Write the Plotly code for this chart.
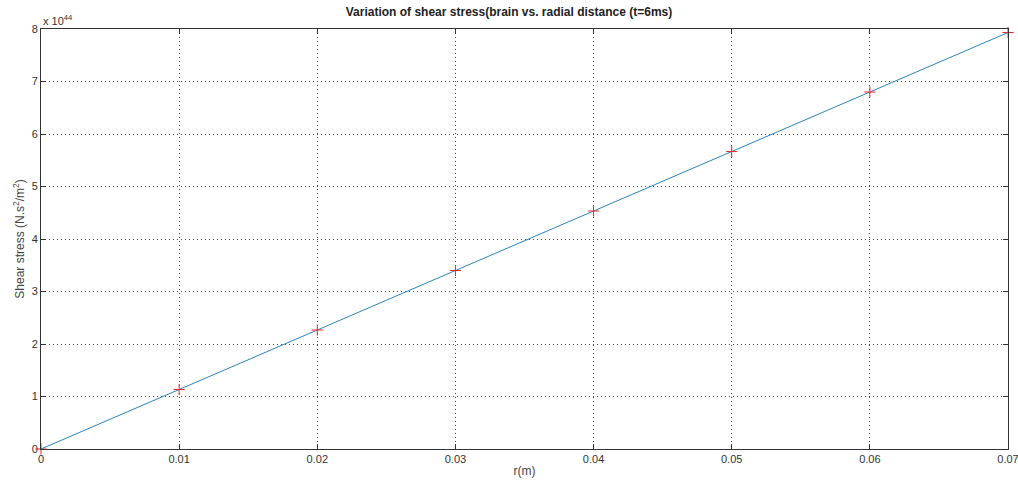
import plotly.graph_objects as go

r_m = [0, 0.01, 0.02, 0.03, 0.04, 0.05, 0.06, 0.07]
shear_stress_e44 = [0, 1.133, 2.267, 3.40, 4.533, 5.667, 6.80, 7.933]
x_ticks = [0, 0.01, 0.02, 0.03, 0.04, 0.05, 0.06, 0.07]
x_tick_labels = ["0", "0.01", "0.02", "0.03", "0.04", "0.05", "0.06", "0.07"]
y_ticks = [0, 1, 2, 3, 4, 5, 6, 7, 8]

font = "Liberation Sans, Arial, sans-serif"

fig = go.Figure()
fig.add_trace(go.Scatter(
    x=r_m, y=shear_stress_e44, mode="lines+markers",
    line=dict(color="#2b83ba", width=1),
    marker=dict(symbol="cross-thin", size=8, color="#e8282d",
                line=dict(color="#e8282d", width=1)),
    showlegend=False, cliponaxis=False,
))

axis_common = dict(
    showline=True, linecolor="#333", linewidth=1, mirror="ticks",
    ticks="inside", ticklen=5, tickcolor="#333", automargin=False,
    ticklabeloverflow="allow",
    showgrid=True, gridcolor="#444", griddash="1px,3px", gridwidth=1,
    zeroline=False, tickfont=dict(family=font, size=11, color="#333"),
)

fig.update_layout(
    width=1018, height=480, autosize=False,
    paper_bgcolor="white", plot_bgcolor="white",
    margin=dict(l=41, r=10, t=29, b=31, autoexpand=False),
    title=dict(text="<b>Variation of shear stress(brain vs. radial distance (t=6ms)</b>",
               x=0.5, xanchor="center", y=0.975, yanchor="middle",
               font=dict(family=font, size=12, color="#222")),
    xaxis=dict(range=[0, 0.07], tickvals=x_ticks, ticktext=x_tick_labels,
               title=dict(text="r(m)", standoff=2,
                          font=dict(family=font, size=12, color="#444")),
               **axis_common),
    yaxis=dict(range=[0, 8], tickvals=y_ticks,
               title=dict(text="Shear stress (N.s<sup>2</sup>/m<sup>2</sup>)", standoff=4,
                          font=dict(family=font, size=12, color="#444")),
               **axis_common),
    annotations=[dict(text="x 10<sup>44</sup>", xref="paper", yref="paper",
                      x=0, y=1, xanchor="left", yanchor="bottom", showarrow=False,
                      font=dict(family=font, size=11, color="#333"))],
)

fig.write_html("out.html", config={"displayModeBar": False},
               post_script="document.body.style.margin='0';document.body.style.overflow='hidden';")
